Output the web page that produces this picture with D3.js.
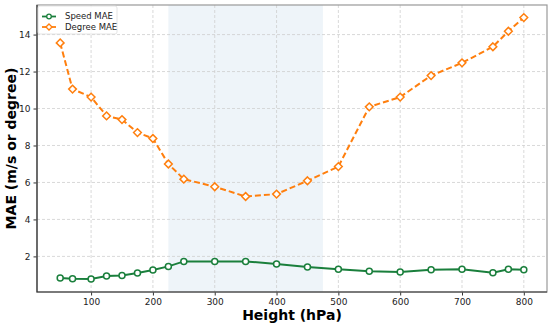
<!DOCTYPE html>
<html>
<head>
<meta charset="utf-8">
<script src="https://cdn.jsdelivr.net/npm/d3@7"></script>
<style>
  body { margin: 0; background: #fff; }
  svg { font-family: "DejaVu Sans", sans-serif; }
</style>
</head>
<body>
<div id="chart"></div>
<script>
// Datos
const heights = [50, 70, 100, 125, 150, 175, 200, 225, 250, 300, 350, 400, 450, 500, 550, 600, 650, 700, 750, 775, 800];
const speedMAE = [0.83, 0.79, 0.78, 0.94, 0.97, 1.10, 1.26, 1.46, 1.73, 1.73, 1.73, 1.59, 1.43, 1.30, 1.19, 1.16, 1.28, 1.30, 1.12, 1.30, 1.28];
const degreeMAE = [13.55, 11.05, 10.62, 9.60, 9.40, 8.70, 8.38, 7.00, 6.18, 5.77, 5.24, 5.37, 6.09, 6.86, 10.09, 10.62, 11.78, 12.47, 13.34, 14.18, 14.92];
const xTicks = [100, 200, 300, 400, 500, 600, 700, 800];
const yTicks = [2, 4, 6, 8, 10, 12, 14];
const band = [225, 475];

const width = 550, height = 326;
const margin = { top: 5, right: 3, bottom: 34, left: 37 };

const svg = d3.select('#chart')
  .append('svg')
  .attr('width', width)
  .attr('height', height);

const x = d3.scaleLinear().domain([12.5, 837.5]).range([margin.left, width - margin.right]);
const y = d3.scaleLinear().domain([0.074, 15.6]).range([height - margin.bottom, margin.top]);

// Banda sombreada
svg.append('rect')
  .attr('x', x(band[0]))
  .attr('y', margin.top)
  .attr('width', x(band[1]) - x(band[0]))
  .attr('height', y.range()[0] - margin.top)
  .attr('fill', '#eef4f9');

// Grid
svg.append('g').selectAll('line')
  .data(xTicks)
  .join('line')
  .attr('x1', d => x(d)).attr('x2', d => x(d))
  .attr('y1', margin.top).attr('y2', y.range()[0])
  .attr('stroke', '#cfcfcf').attr('stroke-width', 0.8)
  .attr('stroke-dasharray', '3,2');

svg.append('g').selectAll('line')
  .data(yTicks)
  .join('line')
  .attr('x1', margin.left).attr('x2', width - margin.right)
  .attr('y1', d => y(d)).attr('y2', d => y(d))
  .attr('stroke', '#cfcfcf').attr('stroke-width', 0.8)
  .attr('stroke-dasharray', '3,2');

// Ejes
const xAxis = svg.append('g')
  .attr('transform', `translate(0,${y.range()[0]})`)
  .call(d3.axisBottom(x).tickValues(xTicks).tickSize(3.5).tickPadding(3));
const yAxis = svg.append('g')
  .attr('transform', `translate(${margin.left},0)`)
  .call(d3.axisLeft(y).tickValues(yTicks).tickSize(3.5).tickPadding(3));

[xAxis, yAxis].forEach(g => {
  g.select('.domain').remove();
  g.selectAll('.tick line').attr('stroke', '#333');
  g.selectAll('.tick text').attr('font-size', 9).attr('fill', '#222')
    .attr('font-family', '"DejaVu Sans", sans-serif');
});

// Marco
svg.append('rect')
  .attr('x', margin.left).attr('y', margin.top)
  .attr('width', width - margin.right - margin.left)
  .attr('height', y.range()[0] - margin.top)
  .attr('fill', 'none').attr('stroke', '#999').attr('stroke-width', 1.2);
svg.append('path')
  .attr('d', `M${margin.left},${margin.top}V${y.range()[0]}H${width - margin.right}`)
  .attr('fill', 'none').attr('stroke', '#333').attr('stroke-width', 1.2);

// Series
const green = '#1a7f3c', orange = '#ff7f0e';
const speedPts = heights.map((h, i) => [h, speedMAE[i]]);
const degPts = heights.map((h, i) => [h, degreeMAE[i]]);
const line = d3.line().x(d => x(d[0])).y(d => y(d[1]));

svg.append('path')
  .datum(speedPts)
  .attr('d', line)
  .attr('fill', 'none').attr('stroke', green).attr('stroke-width', 2);
svg.append('g').selectAll('circle')
  .data(speedPts)
  .join('circle')
  .attr('cx', d => x(d[0])).attr('cy', d => y(d[1])).attr('r', 3)
  .attr('fill', '#fff').attr('stroke', green).attr('stroke-width', 1.5);

svg.append('path')
  .datum(degPts)
  .attr('d', line)
  .attr('fill', 'none').attr('stroke', orange).attr('stroke-width', 2)
  .attr('stroke-dasharray', '6,3');
const diamond = d3.symbol().type(d3.symbolDiamond2).size(38);
svg.append('g').selectAll('path')
  .data(degPts)
  .join('path')
  .attr('transform', d => `translate(${x(d[0])},${y(d[1])})`)
  .attr('d', diamond)
  .attr('fill', '#fff').attr('stroke', orange).attr('stroke-width', 1.5);

// Etiquetas
svg.append('text')
  .attr('x', (margin.left + width - margin.right) / 2)
  .attr('y', 320)
  .attr('text-anchor', 'middle')
  .attr('font-size', 14).attr('font-weight', 700)
  .text('Height (hPa)');
svg.append('text')
  .attr('transform', `translate(16,${(margin.top + y.range()[0]) / 2}) rotate(-90)`)
  .attr('text-anchor', 'middle')
  .attr('font-size', 14).attr('font-weight', 700)
  .text('MAE (m/s or degree)');

// Leyenda
const legend = svg.append('g').attr('transform', 'translate(38,6)');
legend.append('rect')
  .attr('width', 79).attr('height', 28).attr('rx', 2)
  .attr('fill', '#fff').attr('fill-opacity', 0.85)
  .attr('stroke', '#ddd').attr('stroke-width', 0.8);
const items = [
  { label: 'Speed MAE', color: green, dash: null, shape: 'circle' },
  { label: 'Degree MAE', color: orange, dash: null, shape: 'diamond' }
];
items.forEach((it, i) => {
  const gy = 10.5 + i * 10.5;
  legend.append('line')
    .attr('x1', 4).attr('x2', 18).attr('y1', gy).attr('y2', gy)
    .attr('stroke', it.color).attr('stroke-width', 1.8)
    .attr('stroke-dasharray', it.dash);
  if (it.shape === 'circle') {
    legend.append('circle').attr('cx', 11).attr('cy', gy).attr('r', 2.3)
      .attr('fill', '#fff').attr('stroke', it.color).attr('stroke-width', 1.3);
  } else {
    legend.append('path').attr('transform', `translate(11,${gy})`)
      .attr('d', d3.symbol().type(d3.symbolDiamond2).size(24))
      .attr('fill', '#fff').attr('stroke', it.color).attr('stroke-width', 1.3);
  }
  legend.append('text')
    .attr('x', 27).attr('y', gy).attr('dy', '0.35em')
    .attr('font-size', 8.5).attr('fill', '#222')
    .text(it.label);
});
</script>
</body>
</html>
